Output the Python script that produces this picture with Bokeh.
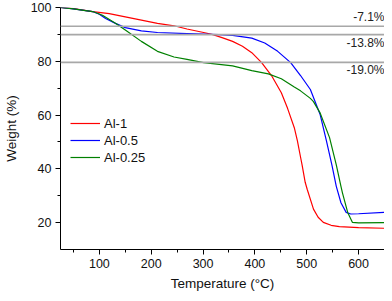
from bokeh.plotting import figure
from bokeh.models import FixedTicker, Span, Legend, LegendItem, ColumnDataSource
from bokeh.core.properties import value
from bokeh.embed import file_html
from bokeh.resources import INLINE

# ---- data ----
t_al1 = [25, 50, 87, 119, 150, 181, 212, 244, 269, 301, 319, 338, 357, 376, 394, 413, 432, 451, 463, 476, 482, 488, 491, 497, 501, 513, 522, 532, 547, 563, 600, 650]
w_al1 = [100, 99.6, 98.5, 97.7, 96.5, 95.3, 94.1, 93.2, 92.0, 90.7, 89.9, 88.7, 87.4, 85.6, 83.2, 79.5, 74.7, 68.3, 62.5, 55.3, 50.4, 44.4, 41.5, 35.0, 32.3, 25.0, 22.0, 20.1, 19.0, 18.5, 18.1, 17.9]

t_al05 = [25, 50, 87, 100, 112, 131, 150, 181, 212, 269, 301, 330, 357, 394, 419, 444, 469, 488, 507, 526, 538, 549, 557, 566, 576, 585, 600, 650]
w_al05 = [100, 99.5, 98.5, 97.5, 95.9, 94.1, 92.5, 91.3, 90.7, 90.3, 90.1, 89.9, 89.6, 88.6, 86.8, 83.7, 79.5, 74.7, 69.5, 60.1, 50.4, 41.0, 33.5, 27.4, 23.8, 23.2, 23.3, 23.8]

t_al025 = [25, 50, 87, 106, 131, 150, 181, 212, 244, 269, 301, 357, 394, 426, 451, 476, 488, 507, 513, 526, 544, 557, 566, 569, 579, 588, 600, 650]
w_al025 = [100, 99.5, 98.5, 97.1, 94.1, 91.6, 87.4, 83.7, 81.6, 80.7, 79.5, 78.3, 76.5, 75.3, 73.5, 70.4, 69.0, 66.2, 65.0, 60.7, 51.6, 41.5, 33.5, 31.0, 23.8, 20.1, 19.9, 20.0]

series_names = ["Al-1", "Al-0.5", "Al-0.25"]
series_colors = ["#ff0000", "#0000ff", "#008000"]

loss_levels = [93.0, 89.9, 79.6]
loss_labels = ["-7.1%", "-13.8%", "-19.0%"]
loss_label_y = [96.6, 86.8, 76.6]

x_major = [100, 200, 300, 400, 500, 600]
x_minor = [50, 150, 250, 350, 450, 550, 650]
y_major = [20, 40, 60, 80, 100]
y_minor = [30, 50, 70, 90]

FONT = "Liberation Sans"

p = figure(width=384, height=293, x_range=(25, 650), y_range=(10, 100),
           output_backend="svg", toolbar_location=None,
           min_border_left=53, min_border_right=0, min_border_top=7, min_border_bottom=40)
p.outline_line_color = None
p.grid.visible = False
p.background_fill_color = "white"
p.border_fill_color = "white"

for lvl in loss_levels:
    p.add_layout(Span(location=lvl, dimension="width", line_color="#a8a8a8", line_width=1.6))

renderers = []
for xs, ys, c in zip([t_al1, t_al05, t_al025], [w_al1, w_al05, w_al025], series_colors):
    r = p.line(xs, ys, line_color=c, line_width=1.2)
    renderers.append(r)

src = ColumnDataSource(dict(x=[650] * 3, y=loss_label_y, t=loss_labels))
p.text("x", "y", text="t", source=src, text_align="right", text_baseline="middle",
       text_font=value(FONT), text_font_size="12px", text_color="#222222")

legend = Legend(items=[LegendItem(label=n, renderers=[r]) for n, r in zip(series_names, renderers)],
                location=(10, 84), orientation="vertical")
legend.background_fill_alpha = 0
legend.border_line_color = None
legend.padding = 0
legend.margin = 0
legend.spacing = 1
legend.glyph_width = 30
legend.glyph_height = 16
legend.label_height = 16
legend.label_standoff = 4
legend.label_text_font = FONT
legend.label_text_font_size = "13px"
legend.label_text_color = "#111111"
p.add_layout(legend)

p.xaxis.ticker = FixedTicker(ticks=x_major, minor_ticks=x_minor)
p.yaxis.ticker = FixedTicker(ticks=y_major, minor_ticks=y_minor)
p.xaxis.axis_label = "Temperature (°C)"
p.yaxis.axis_label = "Weight (%)"
for ax in (p.xaxis, p.yaxis):
    ax.axis_line_color = "black"
    ax.major_tick_line_color = "black"
    ax.minor_tick_line_color = "black"
    ax.major_tick_out = 5
    ax.major_tick_in = 0
    ax.minor_tick_out = 3
    ax.minor_tick_in = 0
    ax.major_label_text_font = FONT
    ax.major_label_text_font_size = "12.5px"
    ax.major_label_text_color = "#111111"
    ax.axis_label_text_font = FONT
    ax.axis_label_text_font_size = "13.5px"
    ax.axis_label_text_font_style = "normal"
    ax.axis_label_text_color = "#111111"
p.xaxis.major_label_standoff = 4
p.xaxis.axis_label_standoff = 5
p.yaxis.major_label_standoff = 4
p.yaxis.axis_label_standoff = 9

open("out.html", "w").write(file_html(p, INLINE))
